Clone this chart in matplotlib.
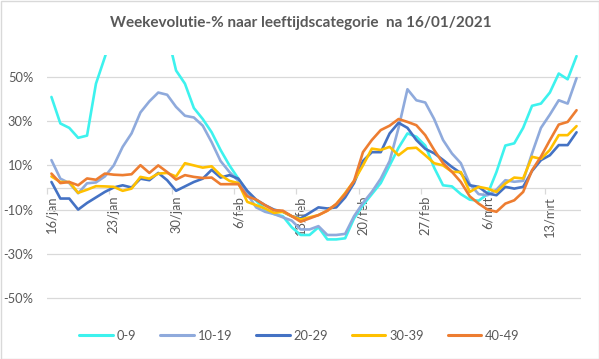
import matplotlib
matplotlib.use("Agg")
import matplotlib.pyplot as plt
from matplotlib.patches import Rectangle
import numpy as np

# ---- data (percent, daily from 16/jan to 16/mrt 2021) ----
series_names = ["0-9", "10-19", "20-29", "30-39", "40-49"]
series_colors = ["#3DF2EE", "#8FAADC", "#4472C4", "#FFC000", "#ED7D31"]

v_0_9 = [41, 29, 27, 22.5, 23.5, 47, 59, 72, 85, 95, 98, 95, 85, 70,
         53, 47, 36, 31, 25, 17, 10, 4, -2, -6, -10, -12, -13, -18,
         -21.5, -21.5, -18, -23.5, -23.5, -23, -14, -8, -3, 2, 10, 18,
         24.5, 23, 19, 9, 1, 0.5, -3, -5.5, -6, -3, 7, 19, 20, 27,
         37, 38, 43, 51.6, 49, 59.5]
v_10_19 = [12.4, 4, 2, -2.6, 1.9, 2.3, 5, 10, 18.4, 24.5, 34, 39, 43, 42,
           36.5, 32.5, 31.7, 28, 20.5, 12, 7, 3, -3, -9, -11, -12, -13.5, -15,
           -19, -19, -17.5, -21.5, -21.5, -21, -13, -7, -2, 4, 12, 27,
           44.5, 39.5, 38.5, 31, 21.5, 15.4, 11, 1.5, -3, -3.5, -1, 3.3, 2.6, 3,
           15.5, 27, 33, 39.5, 38, 49.5]
v_20_29 = [2.5, -5, -5, -10, -7, -4.5, -2, 0, 1, 0, 4, 3.3, 6.6, 3.3,
           -1.5, 0.5, 2.5, 4, 8, 4.5, 5.6, 4, -1.5, -5.5, -8, -10, -11, -13,
           -14, -11.5, -9, -9.5, -9, -4.5, 2, 12, 16, 16, 24.5, 29.3,
           27, 21.5, 17.5, 15.5, 12.5, 9.3, 6.5, 1, 0.3, -2.7, -3.5, 0.3, -0.5, 0.3,
           7.5, 12.4, 14.6, 19.2, 19.2, 25]
v_30_39 = [5, 2.5, 2.5, -2.4, -1, 0.6, 0.5, 0.3, -1.5, -0.5, 4.8, 4, 6.3, 6.6,
           5, 11, 10, 9, 9.6, 5.6, 3, 2, -6.5, -8, -9.5, -11.5, -11, -13,
           -14.5, -13.5, -12.5, -10.5, -7.5, -2.5, 3, 10, 17.6, 17, 18.4, 14.6,
           17.7, 18, 14.6, 11, 10, 7.1, 7, -2, 0.3, -0.5, -2, 1.8, 4.5, 4.1,
           13.9, 13, 17, 23.7, 23.7, 27.8]
v_40_49 = [6.3, 2, 2.5, 1, 4.1, 3.5, 6.3, 5.8, 5.6, 6, 10.1, 6.6, 10, 7,
           3.6, 5.6, 4.8, 4.3, 4.5, 1.5, 1.5, 1.5, -4, -5.5, -8, -10.3, -10.5, -13,
           -15.5, -14, -12.5, -10.5, -7.5, -3, 3, 16, 21.5, 26, 28, 31,
           29.7, 28.2, 23.7, 17, 11, 7.1, 2.5, -4, -7.3, -10, -11, -7.3, -5.8, -2,
           7.8, 14, 21.4, 28.5, 29.7, 35]
series_values = [v_0_9, v_10_19, v_20_29, v_30_39, v_40_49]

tick_labels = ["16/jan", "23/jan", "30/jan", "6/feb", "13/feb",
               "20/feb", "27/feb", "6/mrt", "13/mrt"]
y_ticks = [-50, -30, -10, 10, 30, 50]
title = "Weekevolutie-% naar leeftijdscategorie  na 16/01/2021"

# ---- figure ----
plt.rcParams['font.family'] = ['Lato', 'DejaVu Sans']
W, H = 599, 359
fig = plt.figure(figsize=(W / 100, H / 100), dpi=100)
ax = fig.add_axes([47 / W, 1 - 320 / H, (581 - 47) / W, (320 - 55) / H])

grey_txt = "#595959"
grid_col = "#D9D9D9"

n = len(v_0_9)
x = np.arange(n)
for name, col, vals in zip(series_names, series_colors, series_values):
    ax.plot(x, np.array(vals) / 100.0, color=col, lw=1.9, label=name,
            zorder=3, solid_joinstyle='round', solid_capstyle='round')

ax.set_xlim(-0.5, n - 0.5)
ax.set_ylim(-0.6, 0.6)

ax.set_yticks([v / 100 for v in y_ticks])
ax.set_yticklabels([f"{v}%" for v in y_ticks])
ax.yaxis.grid(True, color=grid_col, lw=0.9)
ax.tick_params(axis='y', length=0, pad=10, labelsize=9.3, labelcolor=grey_txt)

ax.spines['left'].set_visible(False)
ax.spines['right'].set_visible(False)
ax.spines['top'].set_visible(False)
ax.spines['bottom'].set_position(('data', 0))
ax.spines['bottom'].set_color(grid_col)
ax.spines['bottom'].set_linewidth(0.9)

ax.set_xticks(np.arange(0, n, 7))
ax.set_xticklabels(tick_labels, rotation=90)
ax.set_xticks(np.arange(-0.5, n, 7), minor=True)
ax.tick_params(axis='x', which='major', length=0, pad=6, labelsize=9.3,
               labelcolor=grey_txt)
ax.tick_params(axis='x', which='minor', length=4, width=0.9, color=grid_col,
               direction='out')
for lab in ax.get_xticklabels():
    lab.set_verticalalignment('top')

fig.text(0.503, 1 - 23.5 / H, title, ha='center', va='center',
         fontsize=11, fontweight='bold', color=grey_txt)

leg = fig.legend(loc='center', bbox_to_anchor=(0.5, 1 - 336 / H), ncol=5,
                 frameon=False, fontsize=9.3, handlelength=2.6,
                 handletextpad=0.3, columnspacing=1.85, labelcolor=grey_txt)
for h in leg.legend_handles:
    h.set_linewidth(2.2)

fig.patches.append(Rectangle((0.5 / W, 0.5 / H), 1 - 1 / W, 1 - 1 / H,
                             transform=fig.transFigure, fill=False,
                             edgecolor=grid_col, lw=1))

fig.savefig("out.png", dpi=100)
